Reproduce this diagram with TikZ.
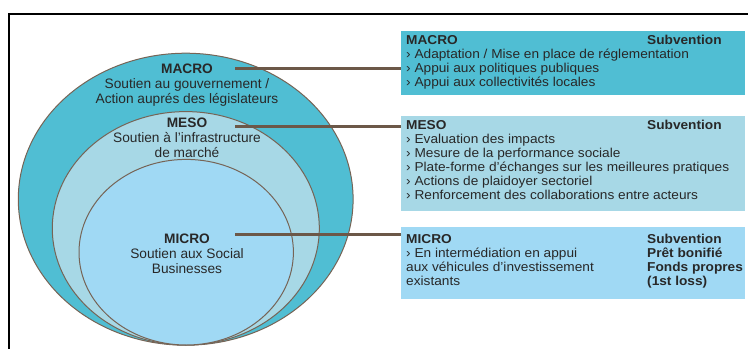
\documentclass[tikz,border=0pt]{standalone}
\usepackage{fontspec}
\setmainfont{Liberation Sans}
\newfontfamily\boxfont{Liberation Sans}[FakeStretch=1.06]
\usetikzlibrary{shapes.geometric}
\definecolor{macrocol}{RGB}{80,190,211}
\definecolor{mesocol}{RGB}{167,216,230}
\definecolor{microcol}{RGB}{160,217,244}
\definecolor{rimcol}{RGB}{118,100,86}
\definecolor{linkcol}{RGB}{108,88,72}
\definecolor{inkcol}{RGB}{40,40,40}
\newcommand\splitrow[2]{\makebox[241pt][l]{#1}\textbf{#2}}
\begin{document}
\begin{tikzpicture}
[x=1pt,y=-1pt,
  ringdecorate/.style={shape=ellipse,inner sep=0pt,outer sep=0pt,draw=rimcol,line width=1pt},%
  boxdecorate/.style={shape=rectangle,inner sep=0pt,outer sep=0pt,anchor=north west,minimum width=344pt},%
  ringtext/.style={anchor=north,inner sep=0pt,align=center,text=inkcol,font=\fontsize{13.7}{15}\selectfont},%
  boxtext/.style={anchor=north west,inner sep=0pt,align=left,text=inkcol,font=\boxfont\fontsize{12.9}{14}\selectfont},%
  linkdecorate/.style={-,draw=linkcol,line width=3pt}]
\useasboundingbox (0,0) rectangle (748,349);
%% frame
\draw[line width=1.6pt] (748,14) -- (9,14) -- (9,349);
%% rings
\foreach \nodename/\x/\y/\w/\h/\col in {macroE/185.7/199.2/334.8/292/macrocol,
  mesoE/185.8/228.3/267/233.4/mesocol, microE/186.2/252.2/214.4/185.6/microcol} {
  \node (\nodename) at (\x,\y) [ringdecorate,fill=\col,minimum width=\w,minimum height=\h] {};
}
%% ring labels
\node (macroT) at (187,62.8) [ringtext] {\strut\textbf{MACRO}\\Soutien au gouvernement /\\Action auprés des législateurs};
\node (mesoT) at (187,116.8) [ringtext] {\strut\textbf{MESO}\\Soutien à l’infrastructure\\de marché};
\node (microT) at (187,232.5) [ringtext] {\strut\textbf{MICRO}\\Soutien aux Social\\Businesses};
%% boxes
\node (macroB) at (401,31) [boxdecorate,fill=macrocol,minimum height=64pt] {};
\node (mesoB) at (401,115.7) [boxdecorate,fill=mesocol,minimum height=95.3pt] {};
\node (microB) at (401,227.3) [boxdecorate,fill=microcol,minimum height=71.7pt] {};
%% box texts
\node (macroL) at (406,34.3) [boxtext] {\strut\splitrow{\textbf{MACRO}}{Subvention}\\
  › Adaptation / Mise en place de réglementation\\
  › Appui aux politiques publiques\\
  › Appui aux collectivités locales};
\node (mesoL) at (406,119.3) [boxtext] {\strut\splitrow{\textbf{MESO}}{Subvention}\\
  › Evaluation des impacts\\
  › Mesure de la performance sociale\\
  › Plate-forme d’échanges sur les meilleures pratiques\\
  › Actions de plaidoyer sectoriel\\
  › Renforcement des collaborations entre acteurs};
\node (microL) at (406,233) [boxtext] {\strut\splitrow{\textbf{MICRO}}{Subvention}\\
  \splitrow{› En intermédiation en appui}{Prêt bonifié}\\
  \splitrow{aux véhicules d’investissement}{Fonds propres}\\
  \splitrow{existants}{(1st loss)}};
%% links
\coordinate (macroS) at (235,68.3);
\coordinate (mesoS) at (235,126);
\coordinate (microS) at (235,234.5);
\path
\foreach \startnode/\endnode in {macroS/macroB, mesoS/mesoB, microS/microB} {
  (\startnode) edge[linkdecorate] (\startnode -| \endnode.west)
};
\end{tikzpicture}
\end{document}
